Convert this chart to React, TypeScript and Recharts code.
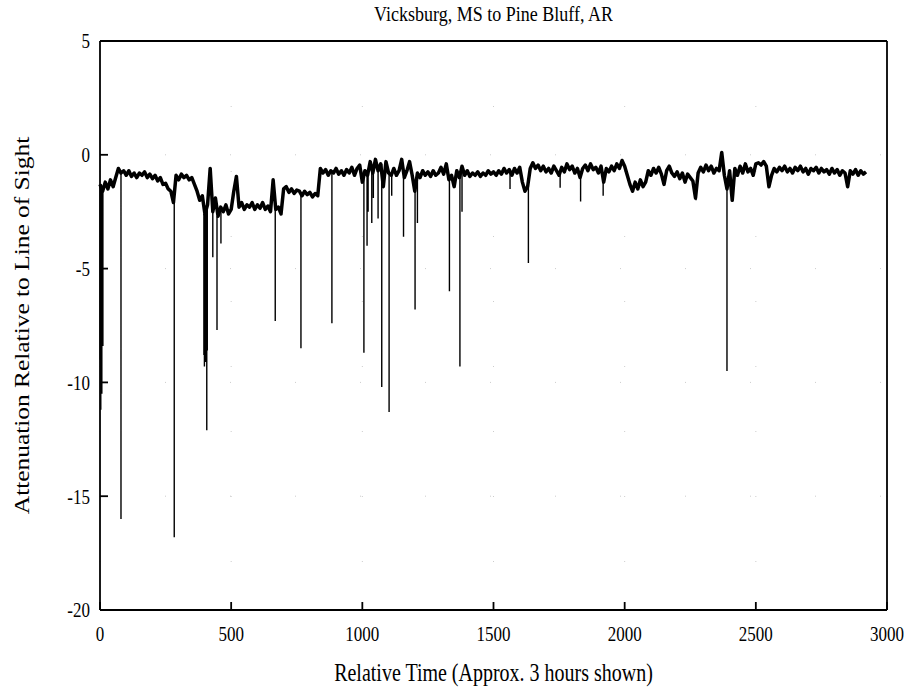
import { CartesianGrid, Label, Line, LineChart, XAxis, YAxis } from "recharts"

// signal level sampled every 10 time units, in blocks of 500
const TIME_STEP = 10

const block0 = [
  -1.3, -1.6, -1.2, -1.5, -1.1, -1.4, -1.0, -0.6, -0.8, -0.7,
  -0.9, -0.7, -0.95, -0.8, -1.0, -0.8, -0.9, -0.75, -1.0, -0.85,
  -1.05, -0.9, -1.15, -1.0, -1.3, -1.25, -1.5, -1.6, -2.1, -0.9,
  -1.1, -0.85, -1.0, -0.9, -1.1, -1.0, -1.3, -1.6, -2.0, -1.8,
  -2.6, -2.2, -0.6, -2.5, -1.9, -2.7, -2.3, -2.5, -2.2, -2.6,
]
const block500 = [
  -2.4, -1.6, -0.95, -2.3, -2.1, -2.4, -2.2, -2.3, -2.1, -2.4,
  -2.2, -2.35, -2.1, -2.4, -2.25, -2.5, -1.1, -2.4, -2.3, -2.6,
  -1.5, -1.4, -1.65, -1.5, -1.7, -1.55, -1.6, -1.8, -1.6, -1.75,
  -1.65, -1.85, -1.7, -1.8, -0.6, -0.8, -0.65, -0.9, -0.7, -0.8,
  -0.6, -0.85, -0.7, -0.9, -0.65, -0.8, -0.55, -0.9, -0.6, -0.45,
]
const block1000 = [
  -1.2, -0.7, -0.9, -0.3, -0.8, -0.2, -0.7, -0.4, -1.4, -0.3,
  -0.8, -0.9, -0.6, -0.9, -0.7, -0.2, -1.0, -0.7, -0.3, -0.9,
  -1.6, -0.8, -1.0, -0.7, -0.9, -0.75, -0.95, -0.7, -0.9, -0.8,
  -0.55, -0.85, -0.4, -1.1, -0.9, -1.4, -0.7, -1.0, -0.5, -0.9,
  -0.7, -0.95, -0.8, -0.9, -0.75, -0.95, -0.8, -0.9, -0.7, -0.85,
]
const block1500 = [
  -0.75, -0.9, -0.7, -0.85, -0.6, -0.8, -0.65, -0.9, -0.6, -0.8,
  -0.55, -1.2, -1.6, -1.4, -0.6, -0.35, -0.6, -0.45, -0.7, -0.5,
  -0.75, -0.6, -0.8, -0.5, -0.7, -0.9, -0.55, -0.75, -0.4, -0.65,
  -0.5, -0.8, -0.6, -1.0, -0.6, -0.45, -0.7, -0.4, -0.65, -0.55,
  -0.8, -0.5, -1.2, -0.6, -0.75, -0.5, -0.7, -0.4, -0.6, -0.25,
]
const block2000 = [
  -0.5, -0.9, -1.3, -1.6, -1.2, -1.5, -1.1, -1.4, -1.2, -0.7,
  -0.9, -0.6, -0.8, -0.55, -0.85, -1.3, -0.7, -0.5, -0.8, -0.95,
  -0.75, -1.05, -0.8, -1.2, -0.85, -1.0, -1.15, -1.9, -0.8, -0.55,
  -0.75, -0.45, -0.7, -0.5, -0.8, -0.6, -0.7, 0.1, -0.9, -1.5,
  -0.7, -2.0, -0.6, -0.9, -0.5, -0.8, -0.4, -0.75, -0.6, -0.9,
]
const block2500 = [
  -0.4, -0.35, -0.45, -0.3, -0.5, -1.4, -0.9, -0.6, -0.75, -0.55,
  -0.7, -0.5, -0.75, -0.6, -0.8, -0.55, -0.7, -0.5, -0.75, -0.6,
  -0.85, -0.6, -0.7, -0.55, -0.8, -0.6, -0.75, -0.65, -0.85, -0.6,
  -0.8, -0.65, -0.9, -0.7, -0.8, -1.4, -0.7, -0.85, -0.65, -0.9,
  -0.7, -0.85, -0.75,
]

const baseline = [...block0, ...block500, ...block1000, ...block1500, ...block2000, ...block2500]

// short fades: time of each dropout and how deep it goes
const dropoutTimes = [
  1, 3, 5, 7, 9, 11, 80, 283,
  396, 398, 400, 402, 404, 407, 409, 430, 446, 461,
  668, 766, 884,
  1006, 1018, 1022, 1036, 1042, 1060, 1074, 1102, 1112, 1157, 1201, 1210, 1332, 1372, 1380,
  1563, 1633, 1754, 1832, 1918, 2272, 2390, 2408, 2852,
]
const dropoutDepths = [
  -9.0, -11.2, -7.5, -10.5, -6.8, -8.4, -16.0, -16.8,
  -8.8, -9.3, -8.5, -9.1, -7.9, -12.1, -8.6, -4.5, -7.7, -3.9,
  -7.3, -8.5, -7.4,
  -8.7, -4.0, -2.5, -3.0, -1.9, -2.8, -10.2, -11.3, -1.8, -3.6, -6.8, -3.0, -6.0, -9.3, -2.5,
  -1.5, -4.75, -1.45, -2.05, -1.8, -2.0, -9.5, -2.0, -1.45,
]

const xTicks = [0, 500, 1000, 1500, 2000, 2500, 3000]
const yTicks = [5, 0, -5, -10, -15, -20]

type Sample = { t: number; v: number | null }

const band: Sample[] = baseline.map((v, i) => ({ t: i * TIME_STEP, v }))

// each dropout is its own vertical stroke, broken off from the next by a null
const fades: Sample[] = []
dropoutTimes.forEach((t, k) => {
  const level = baseline[Math.round(t / TIME_STEP)]
  fades.push({ t, v: level }, { t, v: dropoutDepths[k] }, { t, v: null })
})

const font = "'Liberation Serif', 'Times New Roman', serif"
const axisStroke = { stroke: "#000", strokeWidth: 1.8 }
const STRETCH = 1.22 // the lettering is drawn tall and narrow

function XTick(props: any) {
  const { x, y, payload } = props
  return (
    <text transform={`translate(${x},${y}) scale(1,${STRETCH})`} textAnchor="middle" dy="0.71em" fill="#000" fontSize={17} fontFamily={font}>
      {payload.value}
    </text>
  )
}

function YTick(props: any) {
  const { x, y, payload } = props
  return (
    <text transform={`translate(${x},${y}) scale(1,${STRETCH})`} textAnchor="end" dy="0.355em" fill="#000" fontSize={17} fontFamily={font}>
      {payload.value}
    </text>
  )
}

function BottomTitle(props: any) {
  const { viewBox, value } = props
  const cx = viewBox.x + viewBox.width / 2
  const cy = viewBox.y + 62
  return (
    <text transform={`translate(${cx},${cy}) scale(1,${STRETCH})`} textAnchor="middle" dy="0.355em" fill="#000" fontSize={20} fontFamily={font}>
      {value}
    </text>
  )
}

function LeftTitle(props: any) {
  const { viewBox, value } = props
  const cx = viewBox.x + 12
  const cy = viewBox.y + viewBox.height / 2
  return (
    <text transform={`translate(${cx},${cy}) rotate(-90) scale(${STRETCH + 0.05},1)`} textAnchor="middle" dy="0.355em" fill="#000" fontSize={20} fontFamily={font}>
      {value}
    </text>
  )
}

export default function App() {
  return (
    <div style={{ position: "absolute", left: 0, top: 0, width: 911, height: 691, background: "#fff", fontFamily: font }}>
      <div
        style={{
          position: "absolute",
          left: 100,
          width: 787,
          top: 2,
          textAlign: "center",
          fontSize: 18,
          lineHeight: "24px",
          color: "#000",
          transform: `scaleY(${STRETCH})`,
        }}
      >
        Vicksburg, MS to Pine Bluff, AR
      </div>
      <LineChart width={911} height={691} margin={{ top: 40, right: 23, bottom: 0, left: 10 }}>
        <CartesianGrid stroke="#ccc" strokeDasharray="1 64" xAxisId="bottom" yAxisId="left" />
        <XAxis
          xAxisId="bottom"
          dataKey="t"
          type="number"
          domain={[0, 3000]}
          ticks={xTicks}
          height={81}
          axisLine={axisStroke}
          tickLine={axisStroke}
          tickSize={-8}
          tickMargin={24}
          tick={<XTick />}
        >
          <Label value="Relative Time (Approx. 3 hours shown)" content={<BottomTitle />} />
        </XAxis>
        <XAxis
          xAxisId="top"
          orientation="top"
          type="number"
          domain={[0, 3000]}
          ticks={xTicks}
          height={1}
          axisLine={axisStroke}
          tickLine={axisStroke}
          tickSize={-8}
          tick={false}
        />
        <YAxis
          yAxisId="left"
          type="number"
          domain={[-20, 5]}
          ticks={yTicks}
          width={90}
          axisLine={axisStroke}
          tickLine={axisStroke}
          tickSize={-8}
          tickMargin={18}
          tick={<YTick />}
        >
          <Label value="Attenuation Relative to Line of Sight" content={<LeftTitle />} />
        </YAxis>
        <YAxis
          yAxisId="right"
          orientation="right"
          type="number"
          domain={[-20, 5]}
          ticks={yTicks}
          width={1}
          axisLine={axisStroke}
          tickLine={axisStroke}
          tickSize={-8}
          tick={false}
        />
        <Line
          data={band}
          xAxisId="bottom"
          yAxisId="left"
          dataKey="v"
          type="linear"
          stroke="#000"
          strokeWidth={3.5}
          strokeLinejoin="round"
          dot={false}
          isAnimationActive={false}
        />
        <Line
          data={fades}
          xAxisId="bottom"
          yAxisId="left"
          dataKey="v"
          type="linear"
          stroke="#000"
          strokeWidth={1.4}
          connectNulls={false}
          dot={false}
          isAnimationActive={false}
        />
      </LineChart>
    </div>
  )
}
